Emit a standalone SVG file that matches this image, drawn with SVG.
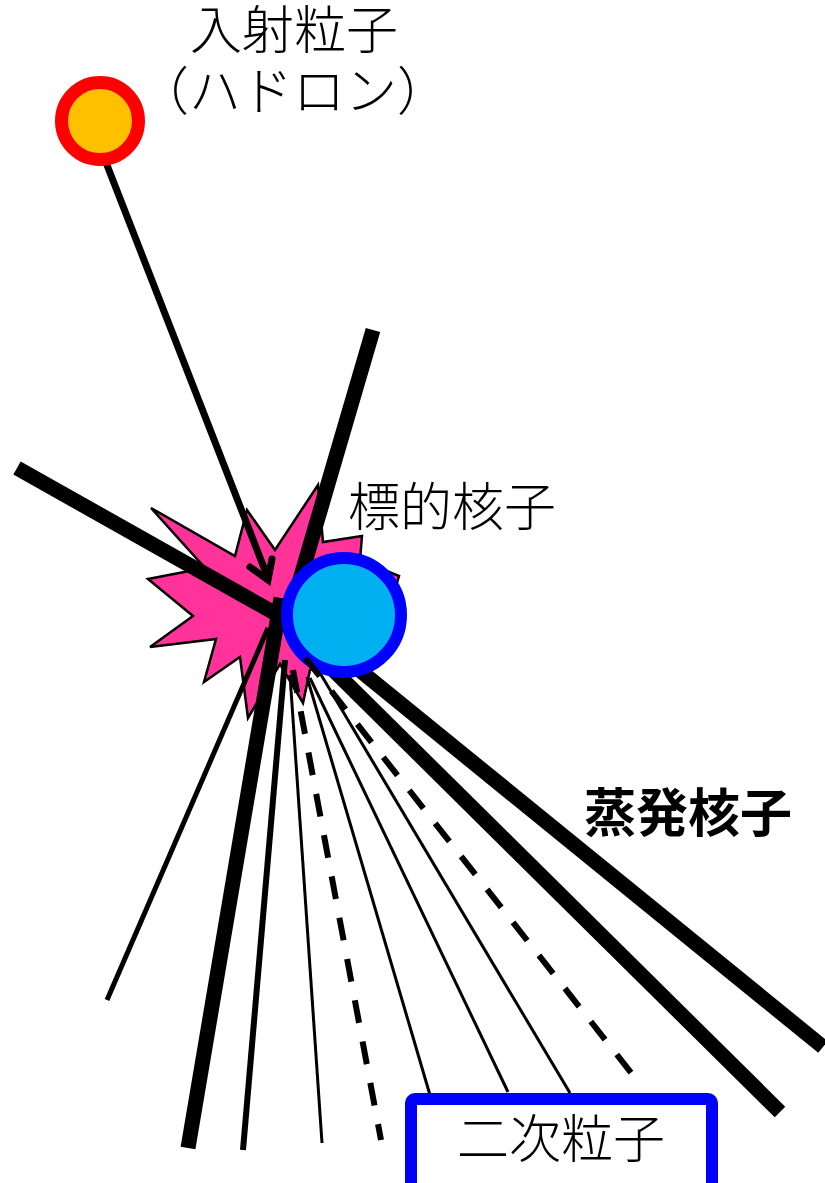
<svg xmlns="http://www.w3.org/2000/svg" width="825" height="1183" viewBox="0 0 825 1183">
  <style>
    .lbl { font-family: "Noto Sans CJK JP", "Noto Sans", sans-serif; font-size: 52px; font-weight: 300; fill: #000; text-anchor: middle; }
    .bold { font-weight: bold; font-size: 52px; }
    .trk { stroke: #000; fill: none; stroke-linecap: butt; }
    .thick { stroke-width: 15; }
    .mid { stroke-width: 6; }
    .thin { stroke-width: 3; }
    .dash { stroke-width: 6; stroke-dasharray: 23 19; }
  </style>

  <!-- collision flash -->
  <g id="flash">
    <polygon points="151,508 235,556 247,510 275,550 318,485 323,542 362,536 360,560 399,576 380,640 310,670 303,703 280,664 248,718 240,657 204,682 216,639 150,647 193,616 148,579 205,568"
             fill="#FF3399" stroke="#000" stroke-width="2.5" stroke-linejoin="miter"/>
  </g>

  <!-- particle tracks -->
  <g id="tracks">
    <line class="trk thick" x1="17" y1="468" x2="278" y2="615"/>
    <line class="trk thick" x1="373" y1="330" x2="294" y2="600"/>
    <line class="trk thick" x1="281" y1="598" x2="188" y2="1148"/>
    <line class="trk" stroke-width="5" x1="268" y1="628" x2="107" y2="1000"/>
    <line class="trk mid" x1="285" y1="660" x2="243" y2="1150"/>
    <line class="trk thin" x1="290" y1="675" x2="322" y2="1143"/>
    <line class="trk dash" x1="293" y1="670" x2="381" y2="1140"/>
    <line class="trk thin" x1="307" y1="677" x2="430" y2="1095"/>
    <line class="trk thin" x1="310" y1="678" x2="508" y2="1092"/>
    <line class="trk thin" x1="320" y1="673" x2="570" y2="1093"/>
    <line class="trk thick" stroke-width="16" x1="310" y1="647" x2="780" y2="1112"/>
    <line class="trk thick" stroke-width="16" x1="320" y1="638" x2="823" y2="1047"/>
  </g>

  <!-- incoming hadron path with open arrowhead -->
  <g id="incident-path">
    <line x1="98" y1="142" x2="268" y2="578" stroke="#000" stroke-width="7"/>
    <polyline points="250,567 268,580 272,559" fill="none" stroke="#000" stroke-width="7" stroke-linecap="round" stroke-linejoin="miter"/>
  </g>

  <g id="incident-particle">
    <circle cx="100" cy="121" r="38.5" fill="#FFC000" stroke="#FF0000" stroke-width="13"/>
  </g>

  <g id="target-nucleon">
    <circle cx="344" cy="615" r="57" fill="#00B0F0" stroke="#0000FF" stroke-width="12"/>
  </g>

  <!-- dashed track drawn over the nucleon -->
  <g id="tracks-front">
    <line class="trk dash" x1="303" y1="655" x2="636" y2="1079" stroke-dashoffset="-4"/>
  </g>

  <g id="secondary-box">
    <rect x="411" y="1099" width="301" height="110" rx="4" fill="#fff" stroke="#0000FF" stroke-width="12"/>
    <text class="lbl" x="561" y="1158">二次粒子</text>
  </g>

  <g id="labels">
    <text class="lbl" x="294" y="49">入射粒子</text>
    <text class="lbl" x="293" y="110">（ハドロン）</text>
    <text class="lbl" x="452" y="526">標的核子</text>
    <text class="lbl bold" x="688" y="832">蒸発核子</text>
  </g>
</svg>
